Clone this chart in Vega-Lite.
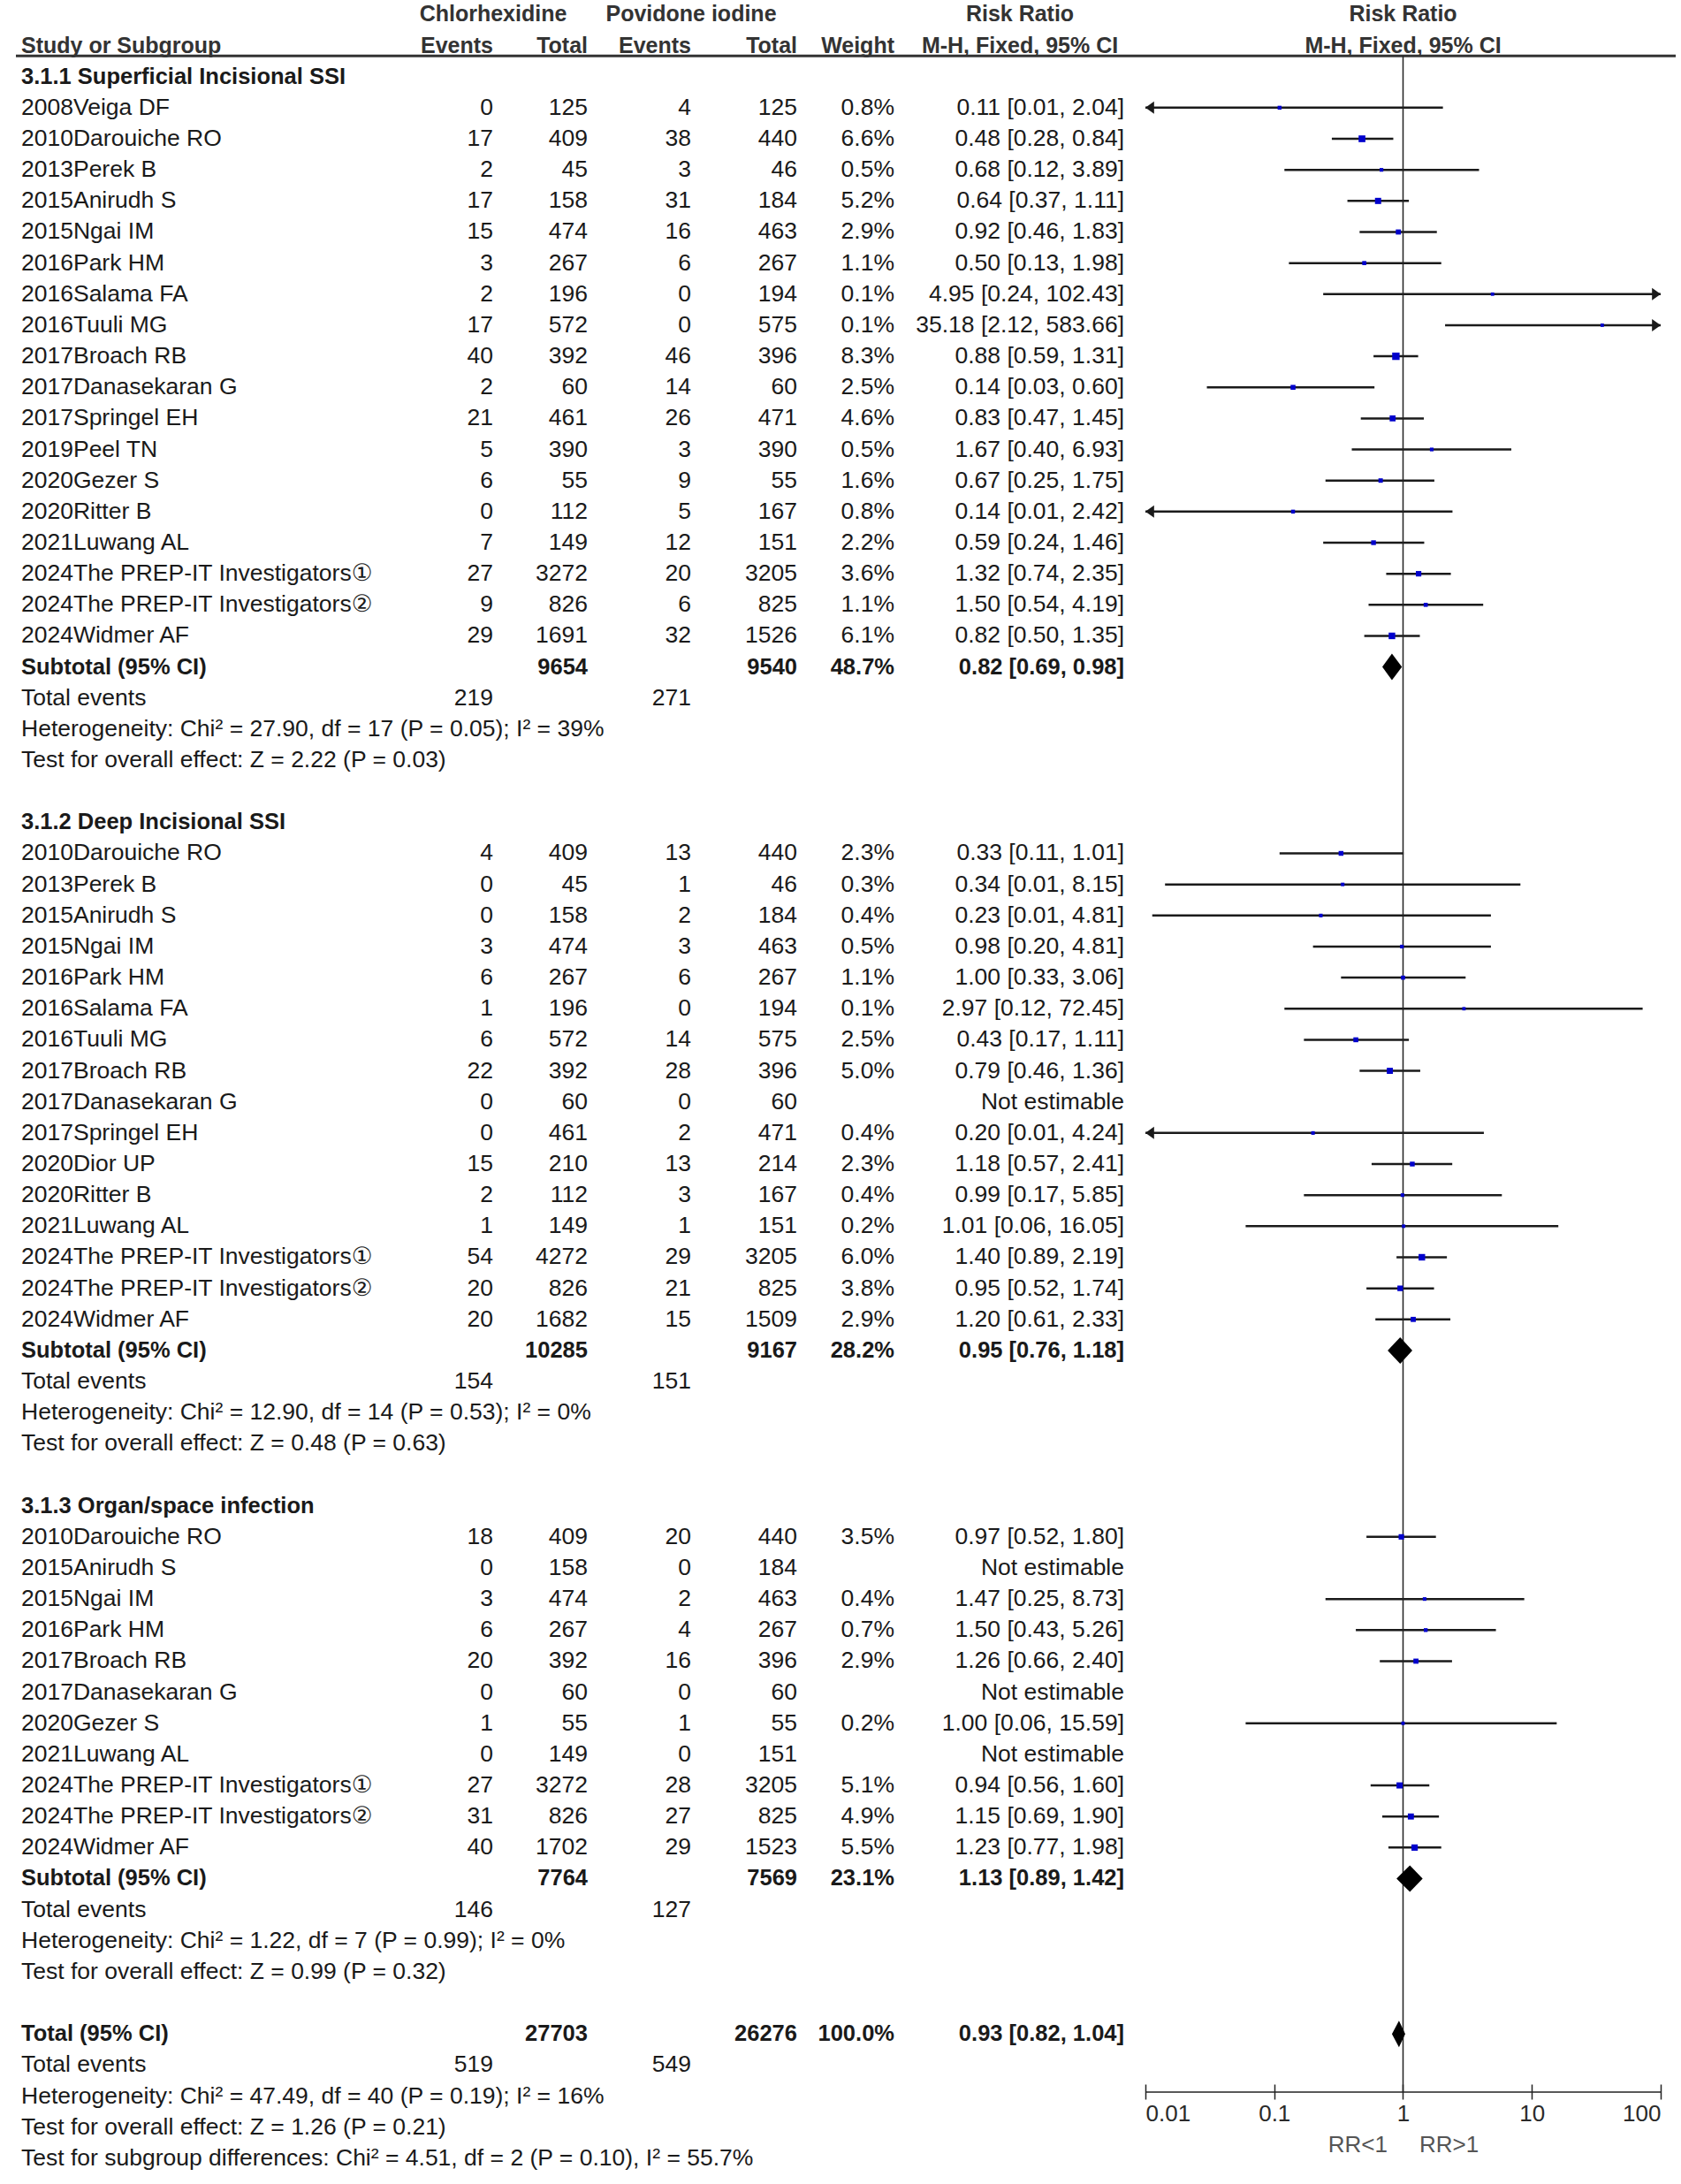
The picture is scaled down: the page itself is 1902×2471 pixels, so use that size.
{
  "$schema": "https://vega.github.io/schema/vega-lite/v6.json",
  "background": "white",
  "padding": {"left": 16, "top": 0, "right": 0, "bottom": 0},
  "bounds": "flush",
  "spacing": 0,
  "resolve": {"scale": {"y": "independent", "x": "independent", "size": "independent"}},
  "config": {
    "view": {"stroke": null},
    "text": {"font": "Liberation Sans, DejaVu Sans", "fontSize": 26.5, "baseline": "middle", "color": "#1a1a1a"}
  },
  "datasets": {
    "head": [
      {"col": "study", "row": -1, "label": "Study or Subgroup"},
      {"col": "ev1", "row": -2, "label": "Chlorhexidine"},
      {"col": "ev1", "row": -1, "label": "Events"},
      {"col": "tot1", "row": -1, "label": "Total"},
      {"col": "ev2", "row": -2, "label": "Povidone iodine"},
      {"col": "ev2", "row": -1, "label": "Events"},
      {"col": "tot2", "row": -1, "label": "Total"},
      {"col": "weight", "row": -1, "label": "Weight"},
      {"col": "ci", "row": -2, "label": "Risk Ratio"},
      {"col": "ci", "row": -1, "label": "M-H, Fixed, 95% CI"},
      {"col": "forest", "row": -2, "label": "Risk Ratio"},
      {"col": "forest", "row": -1, "label": "M-H, Fixed, 95% CI"}
    ],
    "rows": [
      {"row": 0, "kind": "group", "label": "3.1.1 Superficial Incisional SSI"},
      {"row": 1, "kind": "study", "label": "2008Veiga DF", "ev1": 0, "tot1": 125, "ev2": 4, "tot2": 125, "weight": 0.008, "ci": "0.11 [0.01, 2.04]", "rr": 0.11, "lo": 0.006, "hi": 2.04},
      {"row": 2, "kind": "study", "label": "2010Darouiche RO", "ev1": 17, "tot1": 409, "ev2": 38, "tot2": 440, "weight": 0.066, "ci": "0.48 [0.28, 0.84]", "rr": 0.48, "lo": 0.28, "hi": 0.84},
      {"row": 3, "kind": "study", "label": "2013Perek B", "ev1": 2, "tot1": 45, "ev2": 3, "tot2": 46, "weight": 0.005, "ci": "0.68 [0.12, 3.89]", "rr": 0.68, "lo": 0.12, "hi": 3.89},
      {"row": 4, "kind": "study", "label": "2015Anirudh S", "ev1": 17, "tot1": 158, "ev2": 31, "tot2": 184, "weight": 0.052, "ci": "0.64 [0.37, 1.11]", "rr": 0.64, "lo": 0.37, "hi": 1.11},
      {"row": 5, "kind": "study", "label": "2015Ngai IM", "ev1": 15, "tot1": 474, "ev2": 16, "tot2": 463, "weight": 0.029, "ci": "0.92 [0.46, 1.83]", "rr": 0.92, "lo": 0.46, "hi": 1.83},
      {"row": 6, "kind": "study", "label": "2016Park HM", "ev1": 3, "tot1": 267, "ev2": 6, "tot2": 267, "weight": 0.011, "ci": "0.50 [0.13, 1.98]", "rr": 0.5, "lo": 0.13, "hi": 1.98},
      {"row": 7, "kind": "study", "label": "2016Salama FA", "ev1": 2, "tot1": 196, "ev2": 0, "tot2": 194, "weight": 0.001, "ci": "4.95 [0.24, 102.43]", "rr": 4.95, "lo": 0.24, "hi": 102.43},
      {"row": 8, "kind": "study", "label": "2016Tuuli MG", "ev1": 17, "tot1": 572, "ev2": 0, "tot2": 575, "weight": 0.001, "ci": "35.18 [2.12, 583.66]", "rr": 35.18, "lo": 2.12, "hi": 583.66},
      {"row": 9, "kind": "study", "label": "2017Broach RB", "ev1": 40, "tot1": 392, "ev2": 46, "tot2": 396, "weight": 0.083, "ci": "0.88 [0.59, 1.31]", "rr": 0.88, "lo": 0.59, "hi": 1.31},
      {"row": 10, "kind": "study", "label": "2017Danasekaran G", "ev1": 2, "tot1": 60, "ev2": 14, "tot2": 60, "weight": 0.025, "ci": "0.14 [0.03, 0.60]", "rr": 0.14, "lo": 0.03, "hi": 0.6},
      {"row": 11, "kind": "study", "label": "2017Springel EH", "ev1": 21, "tot1": 461, "ev2": 26, "tot2": 471, "weight": 0.046, "ci": "0.83 [0.47, 1.45]", "rr": 0.83, "lo": 0.47, "hi": 1.45},
      {"row": 12, "kind": "study", "label": "2019Peel TN", "ev1": 5, "tot1": 390, "ev2": 3, "tot2": 390, "weight": 0.005, "ci": "1.67 [0.40, 6.93]", "rr": 1.67, "lo": 0.4, "hi": 6.93},
      {"row": 13, "kind": "study", "label": "2020Gezer  S", "ev1": 6, "tot1": 55, "ev2": 9, "tot2": 55, "weight": 0.016, "ci": "0.67 [0.25, 1.75]", "rr": 0.67, "lo": 0.25, "hi": 1.75},
      {"row": 14, "kind": "study", "label": "2020Ritter  B", "ev1": 0, "tot1": 112, "ev2": 5, "tot2": 167, "weight": 0.008, "ci": "0.14 [0.01, 2.42]", "rr": 0.14, "lo": 0.0076, "hi": 2.42},
      {"row": 15, "kind": "study", "label": "2021Luwang AL", "ev1": 7, "tot1": 149, "ev2": 12, "tot2": 151, "weight": 0.022, "ci": "0.59 [0.24, 1.46]", "rr": 0.59, "lo": 0.24, "hi": 1.46},
      {"row": 16, "kind": "study", "label": "2024The PREP-IT Investigators①", "ev1": 27, "tot1": 3272, "ev2": 20, "tot2": 3205, "weight": 0.036, "ci": "1.32 [0.74, 2.35]", "rr": 1.32, "lo": 0.74, "hi": 2.35},
      {"row": 17, "kind": "study", "label": "2024The PREP-IT Investigators②", "ev1": 9, "tot1": 826, "ev2": 6, "tot2": 825, "weight": 0.011, "ci": "1.50 [0.54, 4.19]", "rr": 1.5, "lo": 0.54, "hi": 4.19},
      {"row": 18, "kind": "study", "label": "2024Widmer AF", "ev1": 29, "tot1": 1691, "ev2": 32, "tot2": 1526, "weight": 0.061, "ci": "0.82 [0.50, 1.35]", "rr": 0.82, "lo": 0.5, "hi": 1.35},
      {"row": 19, "kind": "sub", "label": "Subtotal (95% CI)", "tot1": 9654, "tot2": 9540, "weight": 0.487, "ci": "0.82 [0.69, 0.98]", "rr": 0.82, "lo": 0.69, "hi": 0.98},
      {"row": 20, "kind": "events", "label": "Total events", "ev1": 219, "ev2": 271},
      {"row": 21, "kind": "note", "label": "Heterogeneity: Chi² = 27.90, df = 17 (P = 0.05); I² = 39%"},
      {"row": 22, "kind": "note", "label": "Test for overall effect: Z = 2.22 (P = 0.03)"},
      {"row": 24, "kind": "group", "label": "3.1.2 Deep Incisional SSI"},
      {"row": 25, "kind": "study", "label": "2010Darouiche RO", "ev1": 4, "tot1": 409, "ev2": 13, "tot2": 440, "weight": 0.023, "ci": "0.33 [0.11, 1.01]", "rr": 0.33, "lo": 0.11, "hi": 1.01},
      {"row": 26, "kind": "study", "label": "2013Perek B", "ev1": 0, "tot1": 45, "ev2": 1, "tot2": 46, "weight": 0.003, "ci": "0.34 [0.01, 8.15]", "rr": 0.34, "lo": 0.0142, "hi": 8.15},
      {"row": 27, "kind": "study", "label": "2015Anirudh S", "ev1": 0, "tot1": 158, "ev2": 2, "tot2": 184, "weight": 0.004, "ci": "0.23 [0.01, 4.81]", "rr": 0.23, "lo": 0.0113, "hi": 4.81},
      {"row": 28, "kind": "study", "label": "2015Ngai IM", "ev1": 3, "tot1": 474, "ev2": 3, "tot2": 463, "weight": 0.005, "ci": "0.98 [0.20, 4.81]", "rr": 0.98, "lo": 0.2, "hi": 4.81},
      {"row": 29, "kind": "study", "label": "2016Park HM", "ev1": 6, "tot1": 267, "ev2": 6, "tot2": 267, "weight": 0.011, "ci": "1.00 [0.33, 3.06]", "rr": 1.0, "lo": 0.33, "hi": 3.06},
      {"row": 30, "kind": "study", "label": "2016Salama FA", "ev1": 1, "tot1": 196, "ev2": 0, "tot2": 194, "weight": 0.001, "ci": "2.97 [0.12, 72.45]", "rr": 2.97, "lo": 0.12, "hi": 72.45},
      {"row": 31, "kind": "study", "label": "2016Tuuli MG", "ev1": 6, "tot1": 572, "ev2": 14, "tot2": 575, "weight": 0.025, "ci": "0.43 [0.17, 1.11]", "rr": 0.43, "lo": 0.17, "hi": 1.11},
      {"row": 32, "kind": "study", "label": "2017Broach RB", "ev1": 22, "tot1": 392, "ev2": 28, "tot2": 396, "weight": 0.05, "ci": "0.79 [0.46, 1.36]", "rr": 0.79, "lo": 0.46, "hi": 1.36},
      {"row": 33, "kind": "study", "label": "2017Danasekaran G", "ev1": 0, "tot1": 60, "ev2": 0, "tot2": 60, "ci": "Not estimable"},
      {"row": 34, "kind": "study", "label": "2017Springel EH", "ev1": 0, "tot1": 461, "ev2": 2, "tot2": 471, "weight": 0.004, "ci": "0.20 [0.01, 4.24]", "rr": 0.2, "lo": 0.0098, "hi": 4.24},
      {"row": 35, "kind": "study", "label": "2020Dior UP", "ev1": 15, "tot1": 210, "ev2": 13, "tot2": 214, "weight": 0.023, "ci": "1.18 [0.57, 2.41]", "rr": 1.18, "lo": 0.57, "hi": 2.41},
      {"row": 36, "kind": "study", "label": "2020Ritter  B", "ev1": 2, "tot1": 112, "ev2": 3, "tot2": 167, "weight": 0.004, "ci": "0.99 [0.17, 5.85]", "rr": 0.99, "lo": 0.17, "hi": 5.85},
      {"row": 37, "kind": "study", "label": "2021Luwang AL", "ev1": 1, "tot1": 149, "ev2": 1, "tot2": 151, "weight": 0.002, "ci": "1.01 [0.06, 16.05]", "rr": 1.01, "lo": 0.06, "hi": 16.05},
      {"row": 38, "kind": "study", "label": "2024The PREP-IT Investigators①", "ev1": 54, "tot1": 4272, "ev2": 29, "tot2": 3205, "weight": 0.06, "ci": "1.40 [0.89, 2.19]", "rr": 1.4, "lo": 0.89, "hi": 2.19},
      {"row": 39, "kind": "study", "label": "2024The PREP-IT Investigators②", "ev1": 20, "tot1": 826, "ev2": 21, "tot2": 825, "weight": 0.038, "ci": "0.95 [0.52, 1.74]", "rr": 0.95, "lo": 0.52, "hi": 1.74},
      {"row": 40, "kind": "study", "label": "2024Widmer AF", "ev1": 20, "tot1": 1682, "ev2": 15, "tot2": 1509, "weight": 0.029, "ci": "1.20 [0.61, 2.33]", "rr": 1.2, "lo": 0.61, "hi": 2.33},
      {"row": 41, "kind": "sub", "label": "Subtotal (95% CI)", "tot1": 10285, "tot2": 9167, "weight": 0.282, "ci": "0.95 [0.76, 1.18]", "rr": 0.95, "lo": 0.76, "hi": 1.18},
      {"row": 42, "kind": "events", "label": "Total events", "ev1": 154, "ev2": 151},
      {"row": 43, "kind": "note", "label": "Heterogeneity: Chi² = 12.90, df = 14 (P = 0.53); I² = 0%"},
      {"row": 44, "kind": "note", "label": "Test for overall effect: Z = 0.48 (P = 0.63)"},
      {"row": 46, "kind": "group", "label": "3.1.3 Organ/space infection"},
      {"row": 47, "kind": "study", "label": "2010Darouiche RO", "ev1": 18, "tot1": 409, "ev2": 20, "tot2": 440, "weight": 0.035, "ci": "0.97 [0.52, 1.80]", "rr": 0.97, "lo": 0.52, "hi": 1.8},
      {"row": 48, "kind": "study", "label": "2015Anirudh S", "ev1": 0, "tot1": 158, "ev2": 0, "tot2": 184, "ci": "Not estimable"},
      {"row": 49, "kind": "study", "label": "2015Ngai IM", "ev1": 3, "tot1": 474, "ev2": 2, "tot2": 463, "weight": 0.004, "ci": "1.47 [0.25, 8.73]", "rr": 1.47, "lo": 0.25, "hi": 8.73},
      {"row": 50, "kind": "study", "label": "2016Park HM", "ev1": 6, "tot1": 267, "ev2": 4, "tot2": 267, "weight": 0.007, "ci": "1.50 [0.43, 5.26]", "rr": 1.5, "lo": 0.43, "hi": 5.26},
      {"row": 51, "kind": "study", "label": "2017Broach RB", "ev1": 20, "tot1": 392, "ev2": 16, "tot2": 396, "weight": 0.029, "ci": "1.26 [0.66, 2.40]", "rr": 1.26, "lo": 0.66, "hi": 2.4},
      {"row": 52, "kind": "study", "label": "2017Danasekaran G", "ev1": 0, "tot1": 60, "ev2": 0, "tot2": 60, "ci": "Not estimable"},
      {"row": 53, "kind": "study", "label": "2020Gezer  S", "ev1": 1, "tot1": 55, "ev2": 1, "tot2": 55, "weight": 0.002, "ci": "1.00 [0.06, 15.59]", "rr": 1.0, "lo": 0.06, "hi": 15.59},
      {"row": 54, "kind": "study", "label": "2021Luwang AL", "ev1": 0, "tot1": 149, "ev2": 0, "tot2": 151, "ci": "Not estimable"},
      {"row": 55, "kind": "study", "label": "2024The PREP-IT Investigators①", "ev1": 27, "tot1": 3272, "ev2": 28, "tot2": 3205, "weight": 0.051, "ci": "0.94 [0.56, 1.60]", "rr": 0.94, "lo": 0.56, "hi": 1.6},
      {"row": 56, "kind": "study", "label": "2024The PREP-IT Investigators②", "ev1": 31, "tot1": 826, "ev2": 27, "tot2": 825, "weight": 0.049, "ci": "1.15 [0.69, 1.90]", "rr": 1.15, "lo": 0.69, "hi": 1.9},
      {"row": 57, "kind": "study", "label": "2024Widmer AF", "ev1": 40, "tot1": 1702, "ev2": 29, "tot2": 1523, "weight": 0.055, "ci": "1.23 [0.77, 1.98]", "rr": 1.23, "lo": 0.77, "hi": 1.98},
      {"row": 58, "kind": "sub", "label": "Subtotal (95% CI)", "tot1": 7764, "tot2": 7569, "weight": 0.231, "ci": "1.13 [0.89, 1.42]", "rr": 1.13, "lo": 0.89, "hi": 1.42},
      {"row": 59, "kind": "events", "label": "Total events", "ev1": 146, "ev2": 127},
      {"row": 60, "kind": "note", "label": "Heterogeneity: Chi² = 1.22, df = 7 (P = 0.99); I² = 0%"},
      {"row": 61, "kind": "note", "label": "Test for overall effect: Z = 0.99 (P = 0.32)"},
      {"row": 63, "kind": "sub", "label": "Total (95% CI)", "tot1": 27703, "tot2": 26276, "weight": 1.0, "ci": "0.93 [0.82, 1.04]", "rr": 0.93, "lo": 0.82, "hi": 1.04},
      {"row": 64, "kind": "events", "label": "Total events", "ev1": 519, "ev2": 549},
      {"row": 65, "kind": "note", "label": "Heterogeneity: Chi² = 47.49, df = 40 (P = 0.19); I² = 16%"},
      {"row": 66, "kind": "note", "label": "Test for overall effect: Z = 1.26 (P = 0.21)"},
      {"row": 67, "kind": "note", "label": "Test for subgroup differences: Chi² = 4.51, df = 2 (P = 0.10), I² = 55.7%"}
    ]
  },
  "hconcat": [
    {
      "width": 431, "height": 2471,
      "layer": [
        {"data": {"name": "head"}, "transform": [{"filter": "datum.col == 'study'"}],
         "mark": {"type": "rule", "strokeWidth": 3, "color": "#333"},
         "encoding": {"x": {"value": 0}, "x2": {"value": "width"}, "y": {"datum": -0.67, "type": "quantitative", "scale": {"domain": [-2.467, 67.83], "reverse": true, "nice": false, "zero": false}, "axis": null}}},
        {"data": {"name": "head"}, "transform": [{"filter": "datum.col == 'study'"}],
         "mark": {"type": "text", "align": "left", "dx": 6, "x": 0, "fontWeight": "bold", "fontSize": 25, "color": "#333"},
         "encoding": {"y": {"field": "row", "type": "quantitative", "scale": {"domain": [-2.467, 67.83], "reverse": true, "nice": false, "zero": false}, "axis": null}, "text": {"field": "label"}}},
        {"data": {"name": "rows"}, "transform": [{"filter": "datum.kind == 'study' || datum.kind == 'events' || datum.kind == 'note'"}],
         "mark": {"type": "text", "align": "left", "dx": 6, "x": 0},
         "encoding": {"y": {"field": "row", "type": "quantitative", "scale": {"domain": [-2.467, 67.83], "reverse": true, "nice": false, "zero": false}, "axis": null}, "text": {"field": "label"}}},
        {"data": {"name": "rows"}, "transform": [{"filter": "datum.kind == 'group' || datum.kind == 'sub'"}],
         "mark": {"type": "text", "align": "left", "dx": 6, "x": 0, "fontWeight": "bold", "fontSize": 25.5},
         "encoding": {"y": {"field": "row", "type": "quantitative", "scale": {"domain": [-2.467, 67.83], "reverse": true, "nice": false, "zero": false}, "axis": null}, "text": {"field": "label"}}}
      ]
    },
    {
      "width": 109, "height": 2471,
      "layer": [
        {"data": {"name": "head"}, "transform": [{"filter": "datum.col == 'ev1' && datum.row == -1"}],
         "mark": {"type": "rule", "strokeWidth": 3, "color": "#333"},
         "encoding": {"x": {"value": 0}, "x2": {"value": "width"}, "y": {"datum": -0.67, "type": "quantitative", "scale": {"domain": [-2.467, 67.83], "reverse": true, "nice": false, "zero": false}, "axis": null}}},
        {"data": {"name": "head"}, "transform": [{"filter": "datum.col == 'ev1' && datum.row == -1"}],
         "mark": {"type": "text", "align": "right", "x": "width", "fontWeight": "bold", "fontSize": 25, "color": "#333"},
         "encoding": {"y": {"field": "row", "type": "quantitative", "scale": {"domain": [-2.467, 67.83], "reverse": true, "nice": false, "zero": false}, "axis": null}, "text": {"field": "label"}}},
        {"data": {"name": "head"}, "transform": [{"filter": "datum.col == 'ev1' && datum.row == -2"}],
         "mark": {"type": "text", "align": "center", "x": "width", "fontWeight": "bold", "fontSize": 25, "color": "#333"},
         "encoding": {"y": {"field": "row", "type": "quantitative", "scale": {"domain": [-2.467, 67.83], "reverse": true, "nice": false, "zero": false}, "axis": null}, "text": {"field": "label"}}},
        {"data": {"name": "rows"}, "transform": [{"filter": "isValid(datum.ev1)"}],
         "mark": {"type": "text", "align": "right", "x": "width"},
         "encoding": {"y": {"field": "row", "type": "quantitative", "scale": {"domain": [-2.467, 67.83], "reverse": true, "nice": false, "zero": false}, "axis": null}, "text": {"field": "ev1", "type": "quantitative", "format": "d"}}}
      ]
    },
    {
      "width": 107, "height": 2471,
      "layer": [
        {"data": {"name": "head"}, "transform": [{"filter": "datum.col == 'tot1'"}],
         "mark": {"type": "rule", "strokeWidth": 3, "color": "#333"},
         "encoding": {"x": {"value": 0}, "x2": {"value": "width"}, "y": {"datum": -0.67, "type": "quantitative", "scale": {"domain": [-2.467, 67.83], "reverse": true, "nice": false, "zero": false}, "axis": null}}},
        {"data": {"name": "head"}, "transform": [{"filter": "datum.col == 'tot1'"}],
         "mark": {"type": "text", "align": "right", "x": "width", "fontWeight": "bold", "fontSize": 25, "color": "#333"},
         "encoding": {"y": {"field": "row", "type": "quantitative", "scale": {"domain": [-2.467, 67.83], "reverse": true, "nice": false, "zero": false}, "axis": null}, "text": {"field": "label"}}},
        {"data": {"name": "rows"}, "transform": [{"filter": "isValid(datum.tot1) && datum.kind != 'sub'"}],
         "mark": {"type": "text", "align": "right", "x": "width"},
         "encoding": {"y": {"field": "row", "type": "quantitative", "scale": {"domain": [-2.467, 67.83], "reverse": true, "nice": false, "zero": false}, "axis": null}, "text": {"field": "tot1", "type": "quantitative", "format": "d"}}},
        {"data": {"name": "rows"}, "transform": [{"filter": "datum.kind == 'sub'"}],
         "mark": {"type": "text", "align": "right", "x": "width", "fontWeight": "bold", "fontSize": 25.5},
         "encoding": {"y": {"field": "row", "type": "quantitative", "scale": {"domain": [-2.467, 67.83], "reverse": true, "nice": false, "zero": false}, "axis": null}, "text": {"field": "tot1", "type": "quantitative", "format": "d"}}}
      ]
    },
    {
      "width": 117, "height": 2471,
      "layer": [
        {"data": {"name": "head"}, "transform": [{"filter": "datum.col == 'ev2' && datum.row == -1"}],
         "mark": {"type": "rule", "strokeWidth": 3, "color": "#333"},
         "encoding": {"x": {"value": 0}, "x2": {"value": "width"}, "y": {"datum": -0.67, "type": "quantitative", "scale": {"domain": [-2.467, 67.83], "reverse": true, "nice": false, "zero": false}, "axis": null}}},
        {"data": {"name": "head"}, "transform": [{"filter": "datum.col == 'ev2' && datum.row == -1"}],
         "mark": {"type": "text", "align": "right", "x": "width", "fontWeight": "bold", "fontSize": 25, "color": "#333"},
         "encoding": {"y": {"field": "row", "type": "quantitative", "scale": {"domain": [-2.467, 67.83], "reverse": true, "nice": false, "zero": false}, "axis": null}, "text": {"field": "label"}}},
        {"data": {"name": "head"}, "transform": [{"filter": "datum.col == 'ev2' && datum.row == -2"}],
         "mark": {"type": "text", "align": "center", "x": "width", "fontWeight": "bold", "fontSize": 25, "color": "#333"},
         "encoding": {"y": {"field": "row", "type": "quantitative", "scale": {"domain": [-2.467, 67.83], "reverse": true, "nice": false, "zero": false}, "axis": null}, "text": {"field": "label"}}},
        {"data": {"name": "rows"}, "transform": [{"filter": "isValid(datum.ev2)"}],
         "mark": {"type": "text", "align": "right", "x": "width"},
         "encoding": {"y": {"field": "row", "type": "quantitative", "scale": {"domain": [-2.467, 67.83], "reverse": true, "nice": false, "zero": false}, "axis": null}, "text": {"field": "ev2", "type": "quantitative", "format": "d"}}}
      ]
    },
    {
      "width": 120, "height": 2471,
      "layer": [
        {"data": {"name": "head"}, "transform": [{"filter": "datum.col == 'tot2'"}],
         "mark": {"type": "rule", "strokeWidth": 3, "color": "#333"},
         "encoding": {"x": {"value": 0}, "x2": {"value": "width"}, "y": {"datum": -0.67, "type": "quantitative", "scale": {"domain": [-2.467, 67.83], "reverse": true, "nice": false, "zero": false}, "axis": null}}},
        {"data": {"name": "head"}, "transform": [{"filter": "datum.col == 'tot2'"}],
         "mark": {"type": "text", "align": "right", "x": "width", "fontWeight": "bold", "fontSize": 25, "color": "#333"},
         "encoding": {"y": {"field": "row", "type": "quantitative", "scale": {"domain": [-2.467, 67.83], "reverse": true, "nice": false, "zero": false}, "axis": null}, "text": {"field": "label"}}},
        {"data": {"name": "rows"}, "transform": [{"filter": "isValid(datum.tot2) && datum.kind != 'sub'"}],
         "mark": {"type": "text", "align": "right", "x": "width"},
         "encoding": {"y": {"field": "row", "type": "quantitative", "scale": {"domain": [-2.467, 67.83], "reverse": true, "nice": false, "zero": false}, "axis": null}, "text": {"field": "tot2", "type": "quantitative", "format": "d"}}},
        {"data": {"name": "rows"}, "transform": [{"filter": "datum.kind == 'sub'"}],
         "mark": {"type": "text", "align": "right", "x": "width", "fontWeight": "bold", "fontSize": 25.5},
         "encoding": {"y": {"field": "row", "type": "quantitative", "scale": {"domain": [-2.467, 67.83], "reverse": true, "nice": false, "zero": false}, "axis": null}, "text": {"field": "tot2", "type": "quantitative", "format": "d"}}}
      ]
    },
    {
      "width": 110, "height": 2471,
      "layer": [
        {"data": {"name": "head"}, "transform": [{"filter": "datum.col == 'weight'"}],
         "mark": {"type": "rule", "strokeWidth": 3, "color": "#333"},
         "encoding": {"x": {"value": 0}, "x2": {"value": "width"}, "y": {"datum": -0.67, "type": "quantitative", "scale": {"domain": [-2.467, 67.83], "reverse": true, "nice": false, "zero": false}, "axis": null}}},
        {"data": {"name": "head"}, "transform": [{"filter": "datum.col == 'weight'"}],
         "mark": {"type": "text", "align": "right", "x": "width", "fontWeight": "bold", "fontSize": 25, "color": "#333"},
         "encoding": {"y": {"field": "row", "type": "quantitative", "scale": {"domain": [-2.467, 67.83], "reverse": true, "nice": false, "zero": false}, "axis": null}, "text": {"field": "label"}}},
        {"data": {"name": "rows"}, "transform": [{"filter": "isValid(datum.weight) && datum.kind == 'study'"}],
         "mark": {"type": "text", "align": "right", "x": "width"},
         "encoding": {"y": {"field": "row", "type": "quantitative", "scale": {"domain": [-2.467, 67.83], "reverse": true, "nice": false, "zero": false}, "axis": null}, "text": {"field": "weight", "type": "quantitative", "format": ".1%"}}},
        {"data": {"name": "rows"}, "transform": [{"filter": "datum.kind == 'sub'"}],
         "mark": {"type": "text", "align": "right", "x": "width", "fontWeight": "bold", "fontSize": 25.5},
         "encoding": {"y": {"field": "row", "type": "quantitative", "scale": {"domain": [-2.467, 67.83], "reverse": true, "nice": false, "zero": false}, "axis": null}, "text": {"field": "weight", "type": "quantitative", "format": ".1%"}}}
      ]
    },
    {
      "width": 284, "height": 2471,
      "layer": [
        {"data": {"name": "head"}, "transform": [{"filter": "datum.col == 'ci' && datum.row == -1"}],
         "mark": {"type": "rule", "strokeWidth": 3, "color": "#333"},
         "encoding": {"x": {"value": 0}, "x2": {"value": "width"}, "y": {"datum": -0.67, "type": "quantitative", "scale": {"domain": [-2.467, 67.83], "reverse": true, "nice": false, "zero": false}, "axis": null}}},
        {"data": {"name": "head"}, "transform": [{"filter": "datum.col == 'ci'"}],
         "mark": {"type": "text", "align": "center", "x": "width", "dx": -142, "fontWeight": "bold", "fontSize": 25, "color": "#333"},
         "encoding": {"y": {"field": "row", "type": "quantitative", "scale": {"domain": [-2.467, 67.83], "reverse": true, "nice": false, "zero": false}, "axis": null}, "text": {"field": "label"}}},
        {"data": {"name": "rows"}, "transform": [{"filter": "datum.kind == 'study'"}],
         "mark": {"type": "text", "align": "right", "x": "width", "dx": -24},
         "encoding": {"y": {"field": "row", "type": "quantitative", "scale": {"domain": [-2.467, 67.83], "reverse": true, "nice": false, "zero": false}, "axis": null}, "text": {"field": "ci"}}},
        {"data": {"name": "rows"}, "transform": [{"filter": "datum.kind == 'sub'"}],
         "mark": {"type": "text", "align": "right", "x": "width", "dx": -24, "fontWeight": "bold", "fontSize": 25.5},
         "encoding": {"y": {"field": "row", "type": "quantitative", "scale": {"domain": [-2.467, 67.83], "reverse": true, "nice": false, "zero": false}, "axis": null}, "text": {"field": "ci"}}}
      ]
    },
    {
      "width": 583, "height": 2367,
      "layer": [
        {"data": {"name": "head"}, "transform": [{"filter": "datum.col == 'forest' && datum.row == -1"}],
         "mark": {"type": "rule", "strokeWidth": 3, "color": "#333", "x2Offset": 17},
         "encoding": {"x": {"value": 0}, "x2": {"value": "width"}, "y": {"datum": -0.67, "type": "quantitative", "scale": {"domain": [-2.467, 64.87], "reverse": true, "nice": false, "zero": false}, "axis": null}}},
        {"data": {"name": "rows"}, "transform": [{"filter": "datum.kind == 'study' && isValid(datum.rr)"}],
         "mark": {"type": "rule", "strokeWidth": 2.5, "color": "#1a1a1a"},
         "encoding": {
           "x": {"field": "lo", "type": "quantitative", "title": "RR<1\u00a0\u00a0\u00a0\u00a0\u00a0RR>1", "scale": {"type": "log", "domain": [0.01, 100], "clamp": true, "nice": false},
                 "axis": {"values": [0.01, 0.1, 1, 10, 100], "format": "~g", "domain": false, "grid": false, "ticks": true, "tickSize": 17, "tickWidth": 1.5, "tickColor": "#222", "offset": -9, "labelFlush": true, "labelOverlap": false, "labelPadding": 3, "labelFont": "Liberation Sans, DejaVu Sans", "labelFontSize": 26, "labelColor": "#2a2a2a", "titleFont": "Liberation Sans, DejaVu Sans", "titleFontSize": 26, "titleFontWeight": "normal", "titleColor": "#555", "titlePadding": 9}},
           "x2": {"field": "hi"},
           "y": {"field": "row", "type": "quantitative", "scale": {"domain": [-2.467, 64.87], "reverse": true, "nice": false, "zero": false}, "axis": null}}},
        {"data": {"name": "head"}, "transform": [{"filter": "datum.col == 'forest'"}],
         "mark": {"type": "text", "align": "center", "fontWeight": "bold", "fontSize": 25, "color": "#333"},
         "encoding": {
           "x": {"datum": 1, "type": "quantitative", "title": "RR<1\u00a0\u00a0\u00a0\u00a0\u00a0RR>1", "scale": {"type": "log", "domain": [0.01, 100], "clamp": true, "nice": false}},
           "y": {"field": "row", "type": "quantitative", "scale": {"domain": [-2.467, 64.87], "reverse": true, "nice": false, "zero": false}, "axis": null},
           "text": {"field": "label"}}},
        {"data": {"name": "head"}, "transform": [{"filter": "datum.col == 'forest' && datum.row == -1"}],
         "mark": {"type": "rule", "strokeWidth": 1.5, "color": "#222"},
         "encoding": {
           "x": {"datum": 1, "type": "quantitative", "title": "RR<1\u00a0\u00a0\u00a0\u00a0\u00a0RR>1", "scale": {"type": "log", "domain": [0.01, 100], "clamp": true, "nice": false}},
           "y": {"datum": -0.67, "type": "quantitative", "scale": {"domain": [-2.467, 64.87], "reverse": true, "nice": false, "zero": false}, "axis": null},
           "y2": {"datum": 64.87}}},
        {"data": {"name": "head"}, "transform": [{"filter": "datum.col == 'forest' && datum.row == -1"}],
         "mark": {"type": "rule", "strokeWidth": 1.5, "color": "#222"},
         "encoding": {
           "x": {"datum": 0.01, "type": "quantitative", "title": "RR<1\u00a0\u00a0\u00a0\u00a0\u00a0RR>1", "scale": {"type": "log", "domain": [0.01, 100], "clamp": true, "nice": false}},
           "x2": {"datum": 100},
           "y": {"value": "height"}}},
        {"data": {"name": "rows"}, "transform": [{"filter": "datum.kind == 'study' && isValid(datum.lo) && datum.lo < 0.01"}],
         "mark": {"type": "point", "shape": "M0,0L1.4,-1L1.4,1Z", "filled": true, "color": "#1a1a1a", "opacity": 1, "size": 196},
         "encoding": {
           "x": {"field": "lo", "type": "quantitative", "title": "RR<1\u00a0\u00a0\u00a0\u00a0\u00a0RR>1", "scale": {"type": "log", "domain": [0.01, 100], "clamp": true, "nice": false}},
           "y": {"field": "row", "type": "quantitative", "scale": {"domain": [-2.467, 64.87], "reverse": true, "nice": false, "zero": false}, "axis": null}}},
        {"data": {"name": "rows"}, "transform": [{"filter": "datum.kind == 'study' && isValid(datum.hi) && datum.hi > 100"}],
         "mark": {"type": "point", "shape": "M0,0L-1.4,-1L-1.4,1Z", "filled": true, "color": "#1a1a1a", "opacity": 1, "size": 196},
         "encoding": {
           "x": {"field": "hi", "type": "quantitative", "title": "RR<1\u00a0\u00a0\u00a0\u00a0\u00a0RR>1", "scale": {"type": "log", "domain": [0.01, 100], "clamp": true, "nice": false}},
           "y": {"field": "row", "type": "quantitative", "scale": {"domain": [-2.467, 64.87], "reverse": true, "nice": false, "zero": false}, "axis": null}}},
        {"data": {"name": "rows"}, "transform": [{"filter": "datum.kind == 'study' && isValid(datum.rr)"}],
         "mark": {"type": "point", "shape": "square", "filled": true, "color": "#0000cc", "opacity": 1},
         "encoding": {
           "x": {"field": "rr", "type": "quantitative", "title": "RR<1\u00a0\u00a0\u00a0\u00a0\u00a0RR>1", "scale": {"type": "log", "domain": [0.01, 100], "clamp": true, "nice": false}},
           "y": {"field": "row", "type": "quantitative", "scale": {"domain": [-2.467, 64.87], "reverse": true, "nice": false, "zero": false}, "axis": null},
           "size": {"field": "weight", "type": "quantitative", "scale": {"type": "linear", "domain": [0, 0.083], "range": [14, 70], "zero": false}, "legend": null}}},
        {"data": {"name": "rows"}, "transform": [{"filter": "datum.kind == 'sub'"}, {"fold": ["lo", "rr", "hi"], "as": ["key", "val"]}],
         "mark": {"type": "area", "color": "#000", "opacity": 1, "orient": "vertical", "yOffset": {"expr": "datum.key == 'rr' ? -15 : 0"}, "y2Offset": {"expr": "datum.key == 'rr' ? 15 : 0"}},
         "encoding": {
           "x": {"field": "val", "type": "quantitative", "title": "RR<1\u00a0\u00a0\u00a0\u00a0\u00a0RR>1", "scale": {"type": "log", "domain": [0.01, 100], "clamp": true, "nice": false}},
           "y": {"field": "row", "type": "quantitative", "scale": {"domain": [-2.467, 64.87], "reverse": true, "nice": false, "zero": false}, "axis": null},
           "y2": {"field": "row"},
           "detail": {"field": "row", "type": "nominal"}}}
      ]
    }
  ]
}
